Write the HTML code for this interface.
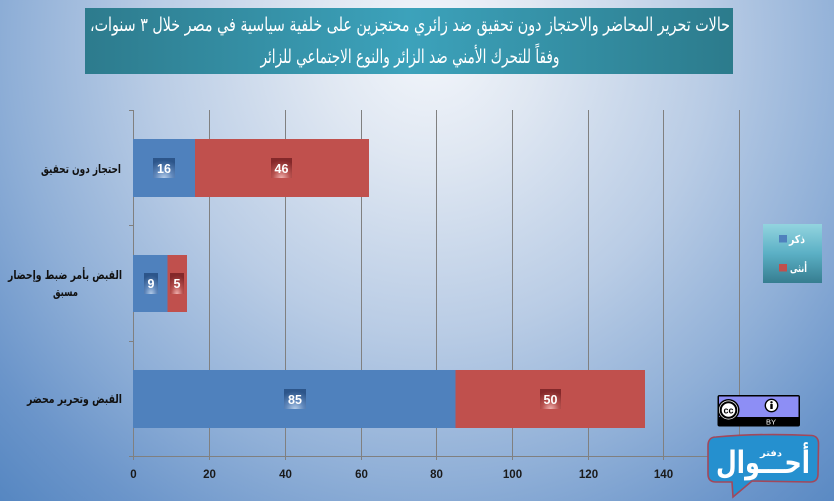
<!DOCTYPE html>
<html>
<head>
<meta charset="utf-8">
<style>
  html, body { margin:0; padding:0; }
  body { width:834px; height:501px; overflow:hidden; position:relative;
    background: radial-gradient(ellipse 620px 640px at 430px 45px, #f3f6fb 0%, #dfe7f2 18%, #b9cce5 45%, #8fafd7 68%, #6b95ca 86%, #5586c1 100%);
  }
  svg { position:absolute; left:0; top:0; }
  .ar { font-family: "DejaVu Sans", "Liberation Sans", sans-serif; direction: rtl; unicode-bidi: embed; }
  .num { font-family: "Liberation Sans", "DejaVu Sans", sans-serif; font-weight:bold; }
</style>
</head>
<body>
<svg width="834" height="501" viewBox="0 0 834 501" xmlns="http://www.w3.org/2000/svg">
  <defs>
    <linearGradient id="titleG" x1="0" y1="0" x2="1" y2="0">
      <stop offset="0" stop-color="#2d7b8d"/>
      <stop offset="0.5" stop-color="#3ca2bb"/>
      <stop offset="1" stop-color="#2c7b8c"/>
    </linearGradient>
    <linearGradient id="legG" x1="0" y1="0" x2="0" y2="1">
      <stop offset="0" stop-color="#93d4df"/>
      <stop offset="0.5" stop-color="#5bb0c5"/>
      <stop offset="1" stop-color="#367d90"/>
    </linearGradient>
    <radialGradient id="lblB" cx="0.5" cy="1" r="0.9">
      <stop offset="0" stop-color="#b3cbe8"/>
      <stop offset="0.45" stop-color="#5f87bb"/>
      <stop offset="1" stop-color="#2c558a"/>
    </radialGradient>
    <radialGradient id="lblR" cx="0.5" cy="1" r="0.9">
      <stop offset="0" stop-color="#f0b0ae"/>
      <stop offset="0.45" stop-color="#b8524f"/>
      <stop offset="1" stop-color="#84282a"/>
    </radialGradient>
  </defs>

  <!-- Title -->
  <rect x="85" y="8" width="648" height="66" fill="url(#titleG)"/>
  <text class="ar" direction="rtl" x="410" y="31" font-size="19" fill="#ffffff" text-anchor="middle" textLength="640" lengthAdjust="spacingAndGlyphs">&#x202B;حالات تحرير المحاضر والاحتجاز دون تحقيق ضد زائري محتجزين على خلفية سياسية في مصر خلال ٣ سنوات،&#x202C;</text>
  <text class="ar" direction="rtl" x="410" y="63" font-size="19" fill="#ffffff" text-anchor="middle" textLength="299" lengthAdjust="spacingAndGlyphs">وفقاً للتحرك الأمني ضد الزائر والنوع الاجتماعي للزائر</text>

  <!-- Gridlines -->
  <g stroke="#808080" stroke-width="1">
    <line x1="209.5" y1="110" x2="209.5" y2="460"/>
    <line x1="285.5" y1="110" x2="285.5" y2="460"/>
    <line x1="361.5" y1="110" x2="361.5" y2="460"/>
    <line x1="436.5" y1="110" x2="436.5" y2="460"/>
    <line x1="512.5" y1="110" x2="512.5" y2="460"/>
    <line x1="588.5" y1="110" x2="588.5" y2="460"/>
    <line x1="663.5" y1="110" x2="663.5" y2="460"/>
    <line x1="739.5" y1="110" x2="739.5" y2="460"/>
    <!-- axes -->
    <line x1="133.5" y1="110" x2="133.5" y2="460"/>
    <line x1="129" y1="456.5" x2="740" y2="456.5"/>
    <!-- left ticks -->
    <line x1="129" y1="110.5" x2="133" y2="110.5"/>
    <line x1="129" y1="225.5" x2="133" y2="225.5"/>
    <line x1="129" y1="341.5" x2="133" y2="341.5"/>
  </g>

  <!-- Bars -->
  <rect x="133" y="139" width="62" height="58" fill="#4f81bd"/>
  <rect x="195" y="139" width="174" height="58" fill="#c0504d"/>

  <rect x="133" y="255" width="34.5" height="57" fill="#4f81bd"/>
  <rect x="167.5" y="255" width="19.5" height="57" fill="#c0504d"/>

  <rect x="133" y="370" width="322.5" height="58" fill="#4f81bd"/>
  <rect x="455.5" y="370" width="189.5" height="58" fill="#c0504d"/>

  <!-- Data labels -->
  <rect x="153" y="158" width="22" height="20" fill="url(#lblB)"/>
  <text class="num" x="164" y="173" font-size="12.5" fill="#fff" text-anchor="middle">16</text>
  <rect x="271" y="158" width="21" height="20" fill="url(#lblR)"/>
  <text class="num" x="281.5" y="173" font-size="12.5" fill="#fff" text-anchor="middle">46</text>

  <rect x="144" y="273" width="14" height="21" fill="url(#lblB)"/>
  <text class="num" x="151" y="288" font-size="12.5" fill="#fff" text-anchor="middle">9</text>
  <rect x="170" y="273" width="14" height="21" fill="url(#lblR)"/>
  <text class="num" x="177" y="288" font-size="12.5" fill="#fff" text-anchor="middle">5</text>

  <rect x="284" y="389" width="22" height="20" fill="url(#lblB)"/>
  <text class="num" x="295" y="404" font-size="12.5" fill="#fff" text-anchor="middle">85</text>
  <rect x="540" y="389" width="21" height="20" fill="url(#lblR)"/>
  <text class="num" x="550.5" y="404" font-size="12.5" fill="#fff" text-anchor="middle">50</text>

  <!-- Category labels -->
  <g class="ar" font-size="12" font-weight="bold" fill="#111">
    <text direction="rtl" x="81" y="173" text-anchor="middle" textLength="80" lengthAdjust="spacingAndGlyphs">احتجاز دون تحقيق</text>
    <text direction="rtl" x="65" y="279" text-anchor="middle" textLength="114" lengthAdjust="spacingAndGlyphs">القبض بأمر ضبط وإحضار</text>
    <text direction="rtl" x="65.5" y="296" text-anchor="middle" textLength="25" lengthAdjust="spacingAndGlyphs">مسبق</text>
    <text direction="rtl" x="74.5" y="403" text-anchor="middle" textLength="95" lengthAdjust="spacingAndGlyphs">القبض وتحرير محضر</text>
  </g>

  <!-- X axis labels -->
  <g class="num" font-size="11.5" fill="#1a1a1a" text-anchor="middle">
    <text x="133.5" y="478">0</text>
    <text x="209.5" y="478">20</text>
    <text x="285.5" y="478">40</text>
    <text x="361.5" y="478">60</text>
    <text x="436.5" y="478">80</text>
    <text x="512.5" y="478">100</text>
    <text x="588.5" y="478">120</text>
    <text x="663.5" y="478">140</text>
  </g>

  <!-- Legend -->
  <rect x="763" y="224" width="59" height="59" fill="url(#legG)"/>
  <rect x="779" y="235" width="8" height="7.5" fill="#4f81bd"/>
  <text class="ar" direction="rtl" x="797" y="243" font-size="11" font-weight="bold" fill="#fff" text-anchor="middle" textLength="16" lengthAdjust="spacingAndGlyphs">ذكر</text>
  <rect x="779" y="264" width="8" height="7.5" fill="#c0504d"/>
  <text class="ar" direction="rtl" x="798.5" y="272" font-size="11" font-weight="bold" fill="#fff" text-anchor="middle" textLength="17" lengthAdjust="spacingAndGlyphs">أنثى</text>

  <!-- CC BY logo -->
  <rect x="717.5" y="395" width="82.5" height="31.5" rx="2" fill="#000"/>
  <rect x="719" y="396.5" width="79.5" height="20.5" fill="#8d8ef5"/>
  <text x="771" y="424.5" font-family="Liberation Sans, sans-serif" font-size="7.5" fill="#fff" text-anchor="middle">BY</text>
  <circle cx="728.5" cy="410" r="11" fill="#000"/>
  <circle cx="728.5" cy="410" r="9.5" fill="#fff"/>
  <circle cx="728.5" cy="410" r="7.8" fill="#fff" stroke="#000" stroke-width="2"/>
  <text x="728.5" y="413.5" font-family="Liberation Sans, sans-serif" font-size="9" font-weight="bold" fill="#000" text-anchor="middle">cc</text>
  <circle cx="771.5" cy="405.5" r="6.2" fill="#fff" stroke="#000" stroke-width="1.4"/>
  <circle cx="771.5" cy="402.3" r="1.2" fill="#000"/>
  <rect x="770.3" y="404" width="2.4" height="5" fill="#000"/>

  <!-- Dafater Ahwal logo -->
  <path d="M 716 437 Q 760 433 812 435.5 Q 819 436.5 818.5 445 L 818 474 Q 818 482 810 482 L 752 481 L 733 497 L 732 482 L 716 482 Q 708 482 708 474 L 708 446 Q 708 437 716 437 Z" fill="#2590cf" stroke="#a2485b" stroke-width="1.6"/>
  <text class="ar" direction="rtl" x="763" y="473" font-size="31" font-weight="bold" fill="#ffffff" text-anchor="middle" textLength="94" lengthAdjust="spacingAndGlyphs">أحـــوال</text>
  <text class="ar" direction="rtl" x="771" y="456" font-size="9" font-weight="bold" fill="#ffffff" text-anchor="middle" textLength="22" lengthAdjust="spacingAndGlyphs">دفتر</text>
</svg>
</body>
</html>
